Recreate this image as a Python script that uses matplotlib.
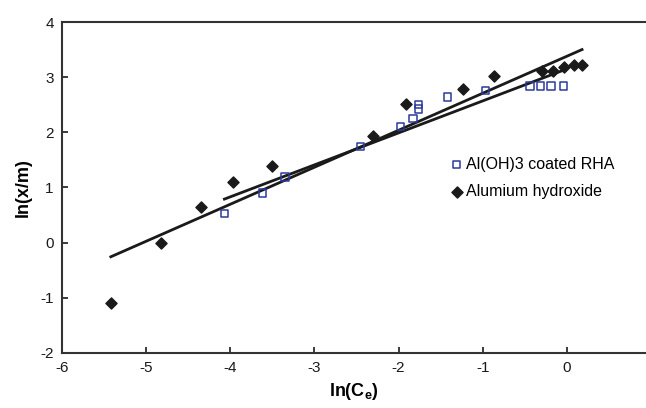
import matplotlib

matplotlib.use("Agg")
import matplotlib.pyplot as plt
import numpy as np

# Data
RHA_X = [-4.07, -3.62, -3.35, -2.45, -1.98, -1.83, -1.76, -1.76, -1.42, -0.97,
         -0.44, -0.31, -0.19, -0.04]
RHA_Y = [0.53, 0.90, 1.19, 1.74, 2.10, 2.25, 2.42, 2.51, 2.64, 2.76,
         2.84, 2.84, 2.84, 2.84]
HYD_X = [-5.42, -4.82, -4.35, -3.97, -3.51, -2.31, -1.91, -1.24, -0.87, -0.29,
         -0.17, -0.03, 0.09, 0.18]
HYD_Y = [-1.10, 0.00, 0.64, 1.10, 1.39, 1.93, 2.51, 2.78, 3.02, 3.11,
         3.12, 3.19, 3.22, 3.22]

# Linear trend lines (slope, intercept) as drawn in the reference
RHA_FIT = (0.58, 3.15)
HYD_FIT = (0.671, 3.38)

X_TICKS = [-6, -5, -4, -3, -2, -1, 0]
Y_TICKS = [-2, -1, 0, 1, 2, 3, 4]

INK = "#1a1a1a"
BLUE = "#2b3a9c"

plt.rcParams["font.family"] = ["Liberation Sans", "DejaVu Sans"]
plt.rcParams["axes.unicode_minus"] = False

fig = plt.figure(figsize=(6.46, 4.08), dpi=100)
ax = fig.add_axes([0.096, 0.135, 0.904, 0.811])

for xs, (slope, intercept) in ((RHA_X, RHA_FIT), (HYD_X, HYD_FIT)):
    line_x = np.array([min(xs), max(xs)])
    ax.plot(line_x, slope * line_x + intercept, color=INK, linewidth=2.0, zorder=2)

ax.scatter(RHA_X, RHA_Y, marker="s", s=28, facecolor="none", edgecolor=BLUE,
           linewidth=1.1, zorder=3, label="Al(OH)3 coated RHA")
ax.scatter(HYD_X, HYD_Y, marker="D", s=32, color=INK, zorder=3,
           label="Alumium hydroxide")

ax.set_xlim(-6, 0.94)
ax.set_ylim(-2, 4)
ax.set_xticks(X_TICKS)
ax.set_yticks(Y_TICKS)
ax.tick_params(direction="in", length=4, width=1.2, labelsize=11, colors=INK, pad=6)
for side in ("left", "bottom", "top"):
    ax.spines[side].set_linewidth(1.5)
    ax.spines[side].set_color("#333333")
ax.spines["right"].set_visible(False)

ax.set_xlabel("ln(C$_\\mathregular{e}$)", fontsize=13, fontweight="bold", labelpad=4)
ax.set_ylabel("ln(x/m)", fontsize=13, fontweight="bold", labelpad=6)

ax.legend(loc="upper left", bbox_to_anchor=(0.643, 0.626), frameon=False,
          fontsize=11.5, handletextpad=0.1, handlelength=1.0, labelspacing=0.75,
          borderpad=0.2)

fig.savefig("out.png", dpi=100)
